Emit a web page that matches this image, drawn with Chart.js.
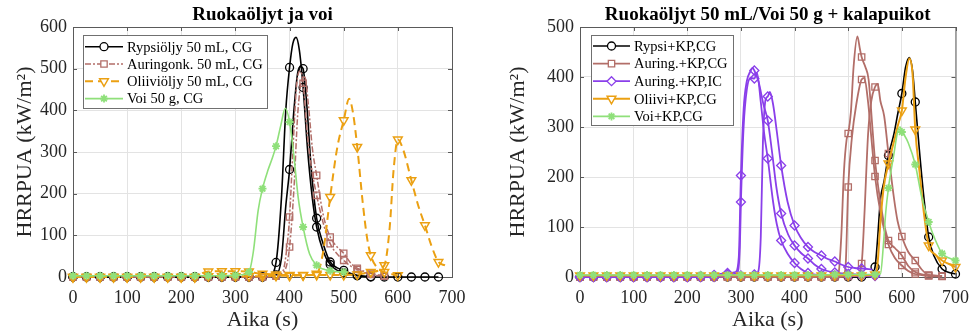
<!DOCTYPE html>
<html lang="fi">
<head>
<meta charset="utf-8">
<title>HRRPUA – ruokaöljyt ja voi</title>
<script src="https://cdn.jsdelivr.net/npm/chart.js@4.4.0/dist/chart.umd.min.js"></script>
<style>
  html, body { margin: 0; padding: 0; background: #fff; }
  #wrap { position: relative; width: 979px; height: 332px; }
  #wrap canvas { position: absolute; top: 0; }
  #c1 { left: 0; }
  #c2 { left: 490px; }
</style>
</head>
<body>
<div id="wrap">
  <canvas id="c1" width="490" height="332"></canvas>
  <canvas id="c2" width="489" height="332"></canvas>
</div>
<script>
// akselien jaotus
const xTicks = [0, 100, 200, 300, 400, 500, 600, 700];
const yTicksLeft = [0, 100, 200, 300, 400, 500, 600];
const yTicksRight = [0, 100, 200, 300, 400, 500];

const leftTitle = 'Ruokaöljyt ja voi';
const rightTitle = 'Ruokaöljyt 50 mL/Voi 50 g + kalapuikot';
const leftLabels = ['Rypsiöljy 50 mL, CG', 'Auringonk. 50 mL, CG', 'Oliiviöljy 50 mL, CG', 'Voi 50 g, CG'];
const rightLabels = ['Rypsi+KP,CG', 'Auring.+KP,CG', 'Auring.+KP,IC', 'Oliivi+KP,CG', 'Voi+KP,CG'];

// [aika (s), HRRPUA (kW/m2)] -- öljyt ja voi yksinään
const rypsiA = [[0,0],[25,0],[50,0],[75,0],[100,0],[125,0],[150,0],[175,0],[200,0],[225,0],[250,0],[275,0],[300,0],[325,0],[350,0],[362,2],[375,35],[385,190],[393,400],[400,503],[406,560],[412,575],[418,545],[425,455],[433,310],[442,190],[450,120],[462,62],[475,30],[488,16],[500,10],[525,3],[550,0],[575,0],[600,0],[625,0],[650,0],[675,0]];
const rypsiB = [[0,0],[25,0],[50,0],[75,0],[100,0],[125,0],[150,0],[175,0],[200,0],[225,0],[250,0],[275,0],[300,0],[325,0],[350,0],[375,5],[385,45],[393,170],[400,258],[408,400],[415,490],[421,505],[425,500],[432,410],[440,260],[450,141],[462,80],[475,36],[488,22],[500,16],[512,9],[525,4],[550,1]];
const auringonkA = [[0,0],[25,0],[50,0],[75,0],[100,0],[125,0],[150,0],[175,0],[200,0],[225,0],[250,0],[275,0],[300,0],[325,0],[350,0],[375,3],[388,15],[395,70],[400,144],[406,300],[413,460],[420,495],[425,465],[433,340],[442,250],[450,196],[462,130],[475,80],[488,55],[500,40],[512,27],[525,18],[550,6],[575,2]];
const auringonkB = [[0,0],[25,0],[50,0],[75,0],[100,0],[125,0],[150,0],[175,0],[200,0],[225,0],[250,0],[275,0],[300,0],[325,0],[350,0],[375,2],[392,18],[400,72],[408,210],[415,390],[422,470],[428,480],[435,410],[442,310],[450,244],[462,150],[475,96],[488,72],[500,57],[512,35],[525,21],[550,9],[575,3]];
const oliiviA = [[0,0],[25,0],[50,0],[75,0],[100,0],[125,0],[150,0],[175,0],[200,0],[225,0],[250,2],[275,2],[300,2],[325,2],[350,2],[375,3],[400,3],[425,4],[450,8],[462,60],[475,192],[488,310],[500,376],[510,428],[517,395],[525,312],[535,180],[543,95],[550,52],[562,22],[575,12],[600,4]];
const oliiviB = [[0,0],[25,0],[50,0],[75,0],[100,0],[125,0],[150,0],[175,0],[200,0],[225,0],[240,10],[250,13],[275,14],[300,14],[325,13],[340,9],[350,8],[375,6],[400,5],[425,5],[450,5],[475,5],[500,5],[525,6],[550,12],[575,28],[585,120],[592,255],[600,330],[610,305],[625,232],[638,170],[650,124],[662,75],[675,36],[687,28]];
const voi = [[0,3],[25,3],[50,3],[75,3],[100,3],[125,3],[150,3],[175,3],[200,3],[225,3],[250,3],[275,3],[300,4],[315,6],[325,12],[333,60],[342,160],[350,212],[360,256],[368,285],[375,314],[384,365],[392,405],[400,372],[408,290],[416,190],[425,120],[437,55],[450,28],[462,19],[475,15],[487,13],[500,12]];

// kalapuikkojen kanssa
const rypsiKp = [[0,0],[25,0],[50,0],[75,0],[100,0],[125,0],[150,0],[175,0],[200,0],[225,0],[250,0],[275,0],[300,0],[325,0],[350,0],[375,0],[400,0],[425,0],[450,0],[475,0],[500,0],[525,0],[540,1],[550,20],[555,80],[560,155],[567,192],[575,243],[585,285],[593,330],[600,367],[607,420],[614,439],[620,412],[625,350],[632,262],[640,170],[650,80],[660,42],[675,16],[688,9],[700,6]];
const auringKpCg1 = [[0,0],[25,0],[50,0],[75,0],[100,0],[125,0],[150,0],[175,0],[200,0],[225,0],[250,0],[275,0],[300,0],[325,0],[350,0],[375,0],[400,0],[425,0],[450,1],[475,2],[482,8],[487,80],[492,210],[497,275],[500,287],[505,330],[510,420],[517,481],[522,455],[525,440],[532,420],[538,395],[545,300],[550,233],[560,150],[568,100],[575,73],[587,58],[600,43],[612,22],[625,10],[650,3],[675,2]];
const auringKpCg2 = [[0,0],[25,0],[50,0],[75,0],[100,0],[125,0],[150,0],[175,0],[200,0],[225,0],[250,0],[275,0],[300,0],[325,0],[350,0],[375,0],[400,0],[425,0],[450,0],[475,1],[490,2],[495,20],[500,180],[507,280],[515,345],[525,395],[530,398],[537,350],[543,280],[550,201],[560,130],[575,65],[587,38],[600,23],[612,12],[625,6],[650,2],[675,1]];
const auringKpCg3 = [[0,0],[25,0],[50,0],[75,0],[100,0],[125,0],[150,0],[175,0],[200,0],[225,0],[250,0],[275,0],[300,0],[325,0],[350,0],[375,0],[400,0],[425,0],[450,0],[475,0],[500,1],[515,4],[525,27],[530,120],[537,285],[543,352],[550,380],[555,386],[560,352],[567,322],[575,247],[585,160],[592,112],[600,81],[612,50],[625,33],[637,15],[650,4],[675,2]];
const auringKpIc1 = [[0,0],[25,0],[50,0],[75,0],[100,0],[125,0],[150,0],[175,0],[200,0],[225,2],[250,4],[275,8],[290,10],[296,40],[300,203],[305,335],[311,392],[317,410],[322,418],[325,413],[333,390],[342,345],[350,313],[358,250],[366,180],[375,127],[388,85],[400,63],[412,48],[425,37],[437,25],[450,16],[475,9],[500,6],[525,4],[550,3]];
const auringKpIc2 = [[0,0],[25,0],[50,0],[75,0],[100,0],[125,0],[150,0],[175,0],[200,0],[225,0],[250,2],[275,5],[293,8],[298,60],[300,150],[305,300],[311,375],[318,398],[325,397],[330,408],[337,350],[343,290],[350,237],[360,150],[367,105],[375,73],[388,45],[400,28],[412,16],[425,8],[450,4],[475,3],[500,2],[525,2],[550,2]];
const auringKpIc3 = [[0,0],[25,0],[50,0],[75,0],[100,0],[125,0],[150,0],[175,0],[200,0],[225,0],[250,0],[275,2],[300,3],[325,5],[332,10],[337,80],[341,270],[346,355],[350,361],[354,370],[360,345],[367,290],[375,223],[387,150],[400,103],[412,78],[425,60],[437,50],[450,43],[462,36],[475,31],[487,25],[500,20],[512,18],[525,17],[545,15]];
const oliiviKp = [[0,3],[25,3],[50,3],[75,3],[100,3],[125,3],[150,3],[175,3],[200,3],[225,3],[250,3],[275,3],[300,3],[325,3],[350,3],[375,3],[400,3],[425,3],[450,3],[475,3],[500,3],[525,3],[550,5],[555,30],[560,110],[566,178],[575,227],[585,270],[593,305],[600,333],[607,400],[614,437],[620,405],[625,295],[633,210],[642,120],[650,63],[662,45],[675,33],[688,26],[700,20]];
const voiKp = [[0,4],[25,4],[50,4],[75,4],[100,4],[125,4],[150,4],[175,4],[200,4],[225,4],[250,4],[275,4],[300,4],[325,4],[350,4],[375,4],[400,4],[425,4],[450,4],[475,5],[500,5],[525,5],[550,5],[560,6],[566,70],[570,130],[575,178],[585,245],[592,290],[597,300],[600,290],[605,283],[612,268],[625,225],[637,160],[650,110],[662,75],[675,47],[688,38],[700,33]];

const FONT = "'Liberation Serif', 'Times New Roman', serif";
const INK = '#262626';
const AXIS = '#5a5a5a';

// viivatyylit
const BLACK = { color: '#000000', width: 1.6, dash: [], marker: 'circle', rotation: 0, radius: 4, markerWidth: 1.3 };
const BROWN_DASH = { color: '#B26E68', width: 1.5, dash: [6, 2, 2, 2], marker: 'rect', rotation: 0, radius: 4.5, markerWidth: 1.3 };
const ORANGE_DASH = { color: '#EBA012', width: 2, dash: [8, 5], marker: 'triangle', rotation: 180, radius: 5, markerWidth: 1.5 };
const GREEN = { color: '#8FE07A', width: 1.6, dash: [], marker: 'star', rotation: 0, radius: 4, markerWidth: 1.8 };
const BROWN = { color: '#B26E68', width: 1.8, dash: [], marker: 'rect', rotation: 0, radius: 4.5, markerWidth: 1.3 };
const PURPLE = { color: '#8A3FEA', width: 1.8, dash: [], marker: 'rectRot', rotation: 0, radius: 4.5, markerWidth: 1.3 };
const ORANGE = { color: '#EBA012', width: 2, dash: [], marker: 'triangle', rotation: 180, radius: 5, markerWidth: 1.5 };

function series(points, s, i) {
  return {
    data: points.map(([x, y]) => ({ x, y })),
    borderColor: s.color,
    borderWidth: s.width,
    borderDash: s.dash,
    pointStyle: s.marker,
    pointRotation: s.rotation,
    // merkki joka 25. sekunti
    pointRadius: ctx => (ctx.raw && ctx.raw.x % 25 === 0 ? s.radius : 0),
    pointBorderColor: s.color,
    pointBorderWidth: s.markerWidth,
    pointBackgroundColor: 'rgba(0,0,0,0)',
    cubicInterpolationMode: 'monotone',
    fill: false,
    clip: false,
    order: -i
  };
}

// otsikko akselien keskelle
const plotTitle = text => ({
  id: 'plotTitle',
  afterDraw(chart) {
    const { ctx, chartArea } = chart;
    ctx.save();
    ctx.font = `bold 19px ${FONT}`;
    ctx.fillStyle = '#000';
    ctx.textAlign = 'center';
    ctx.textBaseline = 'middle';
    ctx.fillText(text, (chartArea.left + chartArea.right) / 2, 15);
    ctx.restore();
  }
});

// laatikko ja sisäänpäin osoittavat jakoviivat
const axesBox = {
  id: 'axesBox',
  beforeDatasetsDraw(chart) {
    const { ctx, chartArea: a, scales: { x, y } } = chart;
    ctx.save();
    ctx.strokeStyle = AXIS;
    ctx.lineWidth = 1;
    ctx.strokeRect(a.left + 0.5, a.top + 0.5, a.right - a.left, a.bottom - a.top);
    ctx.beginPath();
    x.ticks.forEach(t => {
      const px = Math.round(x.getPixelForValue(t.value)) + 0.5;
      ctx.moveTo(px, a.bottom); ctx.lineTo(px, a.bottom - 4);
      ctx.moveTo(px, a.top); ctx.lineTo(px, a.top + 4);
    });
    y.ticks.forEach(t => {
      const py = Math.round(y.getPixelForValue(t.value)) + 0.5;
      ctx.moveTo(a.left, py); ctx.lineTo(a.left + 4, py);
      ctx.moveTo(a.right, py); ctx.lineTo(a.right - 4, py);
    });
    ctx.stroke();
    ctx.restore();
  }
};

const boxLegend = cfg => ({
  id: 'boxLegend',
  afterDraw(chart) {
    const { ctx, chartArea } = chart;
    const bx = Math.round(chartArea.left + cfg.dx), by = Math.round(chartArea.top + cfg.dy);
    ctx.save();
    ctx.fillStyle = '#fff';
    ctx.fillRect(bx, by, cfg.w, cfg.h);
    ctx.strokeStyle = '#707070';
    ctx.lineWidth = 1;
    ctx.strokeRect(bx + 0.5, by + 0.5, cfg.w, cfg.h);
    ctx.font = `14.5px ${FONT}`;
    ctx.textBaseline = 'middle';
    cfg.items.forEach((it, i) => {
      const s = it.style;
      const yy = by + cfg.first + i * cfg.rowH;
      const x0 = bx + 2, x1 = x0 + cfg.lineLen;
      ctx.strokeStyle = s.color;
      ctx.lineWidth = s.width;
      ctx.setLineDash(s.dash);
      ctx.beginPath(); ctx.moveTo(x0, yy); ctx.lineTo(x1, yy); ctx.stroke();
      ctx.setLineDash([]);
      ctx.lineWidth = s.markerWidth;
      ctx.fillStyle = '#fff';
      Chart.helpers.drawPoint(ctx, { pointStyle: s.marker, rotation: s.rotation, radius: s.radius, borderWidth: s.markerWidth }, (x0 + x1) / 2, yy);
      ctx.fillStyle = '#000';
      ctx.fillText(it.label, x1 + 4, yy + 1);
    });
    ctx.restore();
  }
});

function makeChart(id, sets, yTicks, cfg) {
  const tickFont = { family: FONT, size: 18 };
  const titleFont = { family: FONT, size: 22 };
  return new Chart(document.getElementById(id), {
    type: 'line',
    data: { datasets: sets.map(([pts, s], i) => series(pts, s, i)) },
    options: {
      responsive: false,
      animation: false,
      devicePixelRatio: 1,
      layout: { padding: { top: 27, right: cfg.padRight, bottom: 0, left: 0 } },
      scales: {
        x: {
          type: 'linear', min: 0, max: 700,
          afterBuildTicks: s => { s.ticks = xTicks.map(v => ({ value: v })); },
          afterFit: s => { s.height = 55; },
          grid: { color: '#e3e3e3', drawTicks: false },
          border: { color: AXIS },
          ticks: { font: tickFont, color: INK, padding: 10, maxRotation: 0 },
          title: { display: true, text: 'Aika (s)', font: titleFont, color: INK, padding: { top: 0, bottom: -1 } }
        },
        y: {
          type: 'linear', min: 0, max: yTicks[yTicks.length - 1],
          afterBuildTicks: s => { s.ticks = yTicks.map(v => ({ value: v })); },
          afterFit: s => { s.width = cfg.yWidth; },
          grid: { color: '#e3e3e3', drawTicks: false },
          border: { color: AXIS },
          ticks: { font: tickFont, color: INK, padding: 6 },
          title: { display: true, text: 'HRRPUA (kW/m²)', font: titleFont, color: INK, padding: { top: cfg.yTitlePad, bottom: 0 } }
        }
      },
      plugins: { legend: { display: false }, tooltip: { enabled: false } }
    },
    plugins: [axesBox, plotTitle(cfg.title), boxLegend(cfg.legend)]
  });
}

makeChart('c1', [
  [rypsiA, BLACK], [rypsiB, BLACK],
  [auringonkA, BROWN_DASH], [auringonkB, BROWN_DASH],
  [oliiviA, ORANGE_DASH], [oliiviB, ORANGE_DASH],
  [voi, GREEN]
], yTicksLeft, {
  title: leftTitle, padRight: 38, yWidth: 73, yTitlePad: 12,
  legend: {
    dx: 10, dy: 8, w: 184, h: 73, first: 11.7, rowH: 17.3, lineLen: 38,
    items: [BLACK, BROWN_DASH, ORANGE_DASH, GREEN].map((style, i) => ({ label: leftLabels[i], style }))
  }
});

makeChart('c2', [
  [rypsiKp, BLACK],
  [auringKpCg1, BROWN], [auringKpCg2, BROWN], [auringKpCg3, BROWN],
  [auringKpIc1, PURPLE], [auringKpIc2, PURPLE], [auringKpIc3, PURPLE],
  [oliiviKp, ORANGE],
  [voiKp, GREEN]
], yTicksRight, {
  title: rightTitle, padRight: 21, yWidth: 90, yTitlePad: 15,
  legend: {
    dx: 10.7, dy: 8, w: 142, h: 90, first: 11, rowH: 17.6, lineLen: 37,
    items: [BLACK, BROWN, PURPLE, ORANGE, GREEN].map((style, i) => ({ label: rightLabels[i], style }))
  }
});
</script>
</body>
</html>
